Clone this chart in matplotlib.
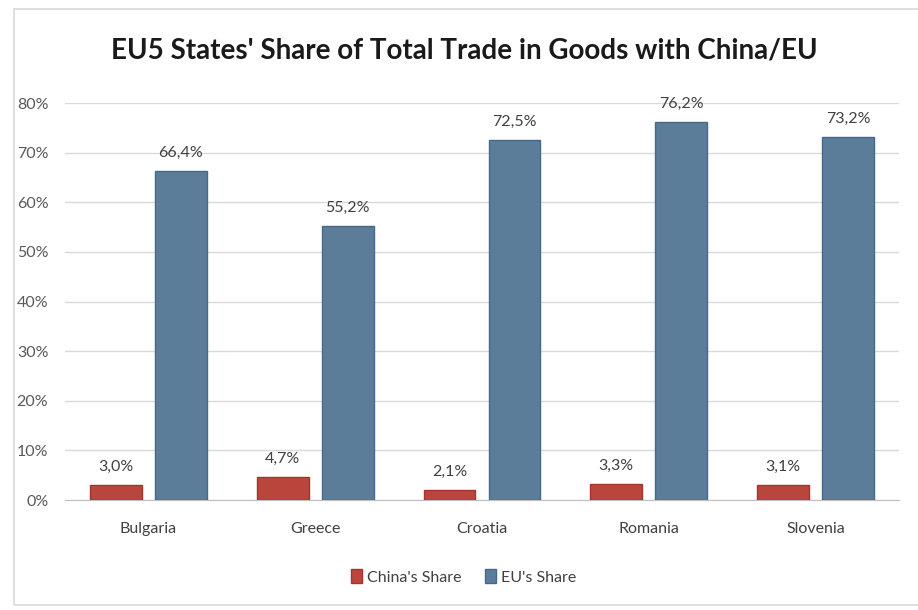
import matplotlib.pyplot as plt
from matplotlib.patches import Rectangle
import numpy as np

# Daten
laender = ['Bulgaria', 'Greece', 'Croatia', 'Romania', 'Slovenia']
china_anteil = [3.0, 4.7, 2.1, 3.3, 3.1]
eu_anteil = [66.4, 55.2, 72.5, 76.2, 73.2]
y_ticks = [0, 10, 20, 30, 40, 50, 60, 70, 80]

plt.rcParams['font.family'] = ['Lato', 'DejaVu Sans']

fig = plt.figure(figsize=(9.18, 6.1), dpi=100)
ax = fig.add_axes([0.0708, 0.1803, 0.9085, 0.6508])

# Rahmen um das ganze Bild
fig.patches.append(Rectangle((0.015, 0.008), 0.99, 0.978, transform=fig.transFigure,
                             fill=False, edgecolor='#d9d9d9', linewidth=1.2))

x = np.arange(len(laender))
breite = 0.31
rot = ax.bar(x - 0.195, china_anteil, breite, color='#b8463d', edgecolor='#a8322c',
             linewidth=1, label="China's Share", zorder=3)
blau = ax.bar(x + 0.195, eu_anteil, breite, color='#5b7d9a', edgecolor='#45698c',
              linewidth=1, label="EU's Share", zorder=3)

for balken in (rot, blau):
    for b in balken:
        h = b.get_height()
        ax.annotate(f'{h:.1f}%'.replace('.', ','), (b.get_x() + b.get_width() / 2, h),
                    xytext=(0, 8), textcoords='offset points', ha='center', va='bottom',
                    fontsize=11.5, color='#404040')

ax.set_xlim(-0.5, len(laender) - 0.5)
ax.set_ylim(0, 80)
ax.set_yticks(y_ticks)
ax.set_yticklabels([f'{t}%' for t in y_ticks], fontsize=11.5, color='#595959')
ax.set_xticks(x)
ax.set_xticklabels(laender, fontsize=11.5, color='#404040')
ax.tick_params(axis='x', length=0, pad=16)
ax.tick_params(axis='y', length=0, pad=12)
ax.grid(axis='y', color='#d9d9d9', linewidth=1, zorder=0)
for s in ['top', 'right', 'left']:
    ax.spines[s].set_visible(False)
ax.spines['bottom'].set_color('#bfbfbf')

fig.text(0.506, 0.918, "EU5 States' Share of Total Trade in Goods with China/EU", ha='center',
         va='center', fontsize=20, fontweight='bold', color='#1a1a1a')

fig.legend(handles=[rot, blau], loc='center', bbox_to_anchor=(0.505, 0.054), ncol=2,
           frameon=False, fontsize=11.5, handlelength=0.7, handleheight=0.9,
           handletextpad=0.3, columnspacing=1.5, labelcolor='#404040')

fig.savefig('out.png', dpi=100)
